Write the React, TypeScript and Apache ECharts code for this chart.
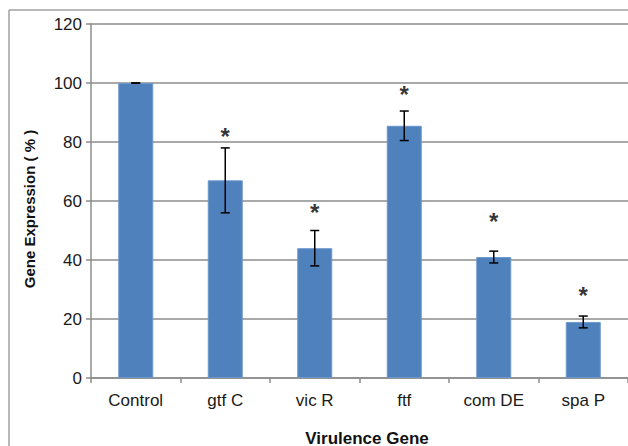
import React, { useEffect, useRef } from "react";
import * as echarts from "echarts";

const categories = ["Control", "gtf C", "vic R", "ftf", "com DE", "spa P"];
const expression = [100, 67, 44, 85.5, 41, 19];
const errorSD = [0, 11, 6, 5, 2, 2];
const starLevel: (number | null)[] = [null, 83, 57, 97, 54, 29];
const yMin = 0;
const yMax = 120;
const yInterval = 20;
const xTitle = "Virulence Gene";
const yTitle = "Gene Expression ( % )";

const FONT = "'Liberation Sans', Arial, sans-serif";

export default function App() {
  const ref = useRef<HTMLDivElement>(null);
  useEffect(() => {
    if (!ref.current) return;
    const chart = echarts.init(ref.current, null, { renderer: "svg" });
    const errData = expression.map((v, i) => [i, v - errorSD[i], v + errorSD[i]]);
    const starData = starLevel
      .map((v, i) => (v == null ? null : [i, v]))
      .filter((d) => d !== null);
    chart.setOption({
      animation: false,
      backgroundColor: "#ffffff",
      grid: { left: 91, right: 0, top: 24, bottom: 68, containLabel: false },
      xAxis: {
        type: "category",
        data: categories,
        boundaryGap: true,
        axisLine: { show: true, lineStyle: { color: "#8c8c8c", width: 1.5 } },
        axisTick: { show: true, length: 5, alignWithLabel: false, lineStyle: { color: "#8c8c8c", width: 1.5 } },
        axisLabel: { color: "#1a1a1a", fontSize: 17, fontFamily: FONT, margin: 14 },
        splitLine: { show: false },
      },
      yAxis: {
        type: "value",
        min: yMin,
        max: yMax,
        interval: yInterval,
        axisLine: { show: true, lineStyle: { color: "#8c8c8c", width: 1.5 } },
        axisTick: { show: true, length: 5, lineStyle: { color: "#8c8c8c", width: 1.5 } },
        axisLabel: { color: "#1a1a1a", fontSize: 17, fontFamily: FONT, margin: 9 },
        splitLine: { show: true, lineStyle: { color: "#8c8c8c", width: 1.5 } },
      },
      graphic: [
        { type: "line", shape: { x1: 9, y1: 10, x2: 628, y2: 10 }, style: { stroke: "#a0a0a0", lineWidth: 1.5 } },
        { type: "line", shape: { x1: 9, y1: 10, x2: 9, y2: 446 }, style: { stroke: "#a0a0a0", lineWidth: 1.5 } },
        {
          type: "text",
          x: 367,
          y: 438,
          style: { text: xTitle, font: `bold 17px ${FONT}`, fill: "#111", textAlign: "center", textVerticalAlign: "middle" },
        },
        {
          type: "text",
          x: 29,
          y: 209,
          rotation: Math.PI / 2,
          style: { text: yTitle, font: `bold 15px ${FONT}`, fill: "#111", textAlign: "center", textVerticalAlign: "middle" },
        },
      ],
      series: [
        {
          type: "bar",
          data: expression,
          barWidth: 35,
          itemStyle: { color: "#4F81BD", borderColor: "#6d98cc", borderWidth: 1 },
        },
        {
          type: "custom",
          data: errData,
          z: 10,
          renderItem: (params: any, api: any) => {
            const x = api.value(0);
            const lo = api.coord([x, api.value(1)]);
            const hi = api.coord([x, api.value(2)]);
            const hw = 4.5;
            const style = { stroke: "#000", lineWidth: 1.5 };
            return {
              type: "group",
              children: [
                { type: "line", shape: { x1: hi[0], y1: hi[1], x2: lo[0], y2: lo[1] }, style },
                { type: "line", shape: { x1: hi[0] - hw, y1: hi[1], x2: hi[0] + hw, y2: hi[1] }, style },
                { type: "line", shape: { x1: lo[0] - hw, y1: lo[1], x2: lo[0] + hw, y2: lo[1] }, style },
              ],
            };
          },
        },
        {
          type: "scatter",
          data: starData,
          symbolSize: 1,
          itemStyle: { color: "rgba(0,0,0,0)" },
          z: 11,
          label: {
            show: true,
            position: "inside",
            formatter: "*",
            fontSize: 24,
            fontWeight: "bold",
            fontFamily: FONT,
            color: "#000",
            offset: [0, 3],
          },
        },
      ],
    });
    return () => chart.dispose();
  }, []);
  return (
    <div
      ref={ref}
      style={{ position: "fixed", left: 0, top: 0, width: 628, height: 446, background: "#fff" }}
    />
  );
}
